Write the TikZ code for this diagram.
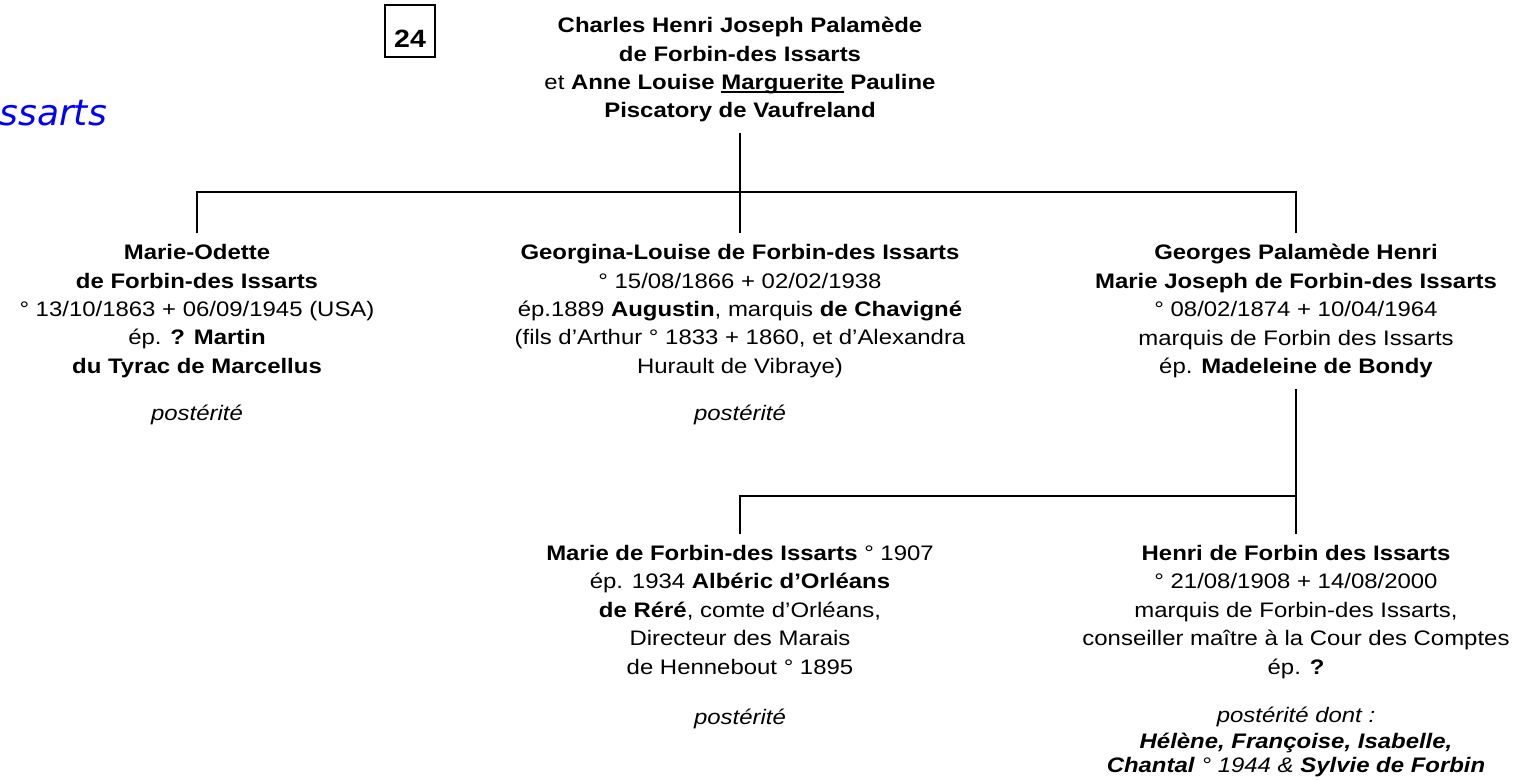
\documentclass[tikz,border=0pt]{standalone}
\usepackage{fontspec}
\setmainfont{Liberation Sans}[FakeStretch=1.14]
\newfontfamily\titlefont{DejaVu Sans}
\usetikzlibrary{positioning}

\newcommand\souligne[1]{\setbox0=\hbox{#1}\rlap{\rule[-3.5pt]{\wd0}{1.6pt}}\box0\relax}

\tikzset{
  person/.style={align=center, inner xsep=0pt, inner ysep=11pt, font=\fontsize{21}{28.4}\selectfont},
  link/.style={line width=2.5pt},
  numbox/.style={draw, line width=1.1pt, minimum width=50pt, minimum height=52pt, inner sep=0pt,
    text height=32pt, text depth=0pt, font=\fontsize{25}{25}\selectfont\bfseries},
  pagetitle/.style={inner sep=0pt, text=blue, font=\titlefont\itshape\fontsize{36}{36}\selectfont}
}

\begin{document}
\begin{tikzpicture}[x=1pt,y=1pt]
\useasboundingbox (0,0) rectangle (1528,-780);

\node[pagetitle, anchor=base east] (title) at (107,-125) {ssarts};
\node[numbox] (num) at (410,-31) {24};

% parents
\node[person, anchor=north] (parents) at (740,-6) {\textbf{Charles Henri Joseph Palamède}\\
  \textbf{de Forbin-des Issarts}\\
  et \textbf{Anne Louise \souligne{Marguerite} Pauline}\\
  \textbf{Piscatory de Vaufreland}};

% children
\node[person, below=100pt of parents] (georgina) {\textbf{Georgina-Louise de Forbin-des Issarts}\\
  ° 15/08/1866 + 02/02/1938\\
  ép.1889 \textbf{Augustin}, marquis \textbf{de Chavigné}\\
  (fils d’Arthur ° 1833 + 1860, et d’Alexandra\\
  Hurault de Vibraye)\\[18.6pt]
  \textit{postérité}};
\node[person, left=543pt of georgina.north, anchor=north] (marieodette) {\textbf{Marie-Odette}\\
  \textbf{de Forbin-des Issarts}\\
  ° 13/10/1863 + 06/09/1945 (USA)\\
  ép. \textbf{? Martin}\\
  \textbf{du Tyrac de Marcellus}\\[18.6pt]
  \textit{postérité}};
\node[person, right=556pt of georgina.north, anchor=north] (georges) {\textbf{Georges Palamède Henri}\\
  \textbf{Marie Joseph de Forbin-des Issarts}\\
  ° 08/02/1874 + 10/04/1964\\
  marquis de Forbin des Issarts\\
  ép. \textbf{Madeleine de Bondy}};

% grandchildren
\node[person, below=145pt of georges] (henri) {\textbf{Henri de Forbin des Issarts}\\
  ° 21/08/1908 + 14/08/2000\\
  marquis de Forbin-des Issarts,\\
  conseiller maître à la Cour des Comptes\\
  ép. \textbf{?}\\[20pt]
  \textit{postérité dont :}\\[-2pt]
  \textbf{\textit{Hélène, Françoise, Isabelle,}}\\[-4.5pt]
  \textbf{\textit{Chantal}} \textit{° 1944 \&} \textbf{\textit{Sylvie de Forbin}}};
\node[person, left=556pt of henri.north, anchor=north] (marie) {\textbf{Marie de Forbin-des Issarts} ° 1907\\
  ép. 1934 \textbf{Albéric d’Orléans}\\
  \textbf{de Réré}, comte d’Orléans,\\
  Directeur des Marais\\
  de Hennebout ° 1895\\[22pt]
  \textit{postérité}};

\coordinate (fork) at (740,-192);
\coordinate (fork2) at (1296,-496);

\draw[link] (parents) -- (georgina);
\draw[link] (marieodette.north) |- (fork) -| (georges.north);
\draw[link] (georges) -- (henri);
\draw[link] (marie.north) |- (fork2);
\end{tikzpicture}
\end{document}
